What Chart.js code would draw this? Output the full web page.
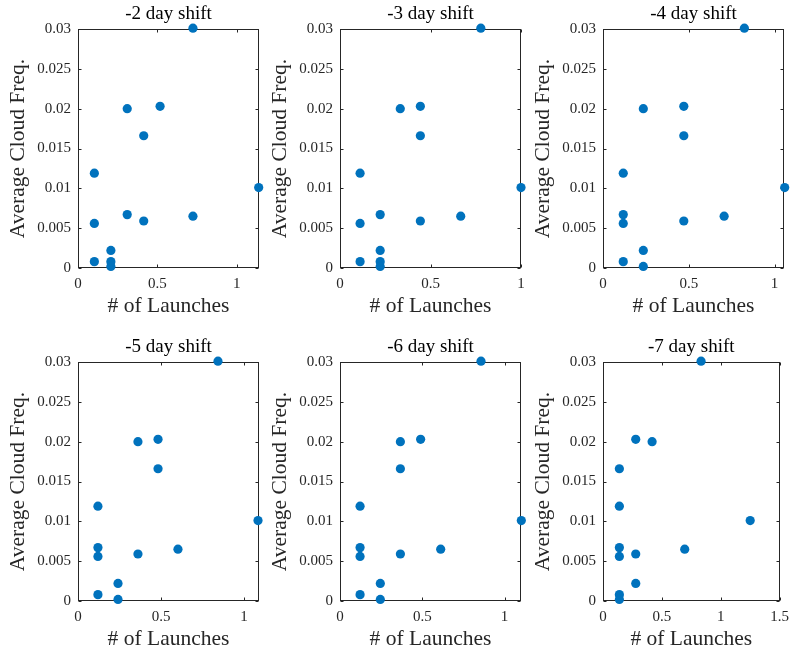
<!DOCTYPE html>
<html>
<head>
<meta charset="utf-8">
<script src="https://cdn.jsdelivr.net/npm/chart.js@4"></script>
<style>
  html, body { margin: 0; padding: 0; background: #ffffff; }
  #figure { position: relative; width: 796px; height: 654px; overflow: hidden; }
  #figure canvas { position: absolute; }
</style>
</head>
<body>
<div id="figure"></div>
<script>
const panelTitles = ["-2 day shift", "-3 day shift", "-4 day shift", "-5 day shift", "-6 day shift", "-7 day shift"];

// # of launches (x) and average cloud frequency (y), one pair per shift
const launchesShift2 = [0.103, 0.103, 0.103, 0.207, 0.207, 0.207, 0.31, 0.31, 0.414, 0.414, 0.517, 0.724, 0.724, 1.138];
const cloudShift2 = [0.0119, 0.0056, 0.0008, 0.0022, 0.0008, 0.0002, 0.0200, 0.0067, 0.0166, 0.0059, 0.0203, 0.0301, 0.0065, 0.0101];

const launchesShift3 = [0.111, 0.111, 0.111, 0.222, 0.222, 0.222, 0.222, 0.333, 0.444, 0.444, 0.444, 0.667, 0.778, 1.0];
const cloudShift3 = [0.0119, 0.0056, 0.0008, 0.0067, 0.0022, 0.0008, 0.0002, 0.0200, 0.0203, 0.0166, 0.0059, 0.0065, 0.0301, 0.0101];

const launchesShift4 = [0.118, 0.118, 0.118, 0.118, 0.235, 0.235, 0.235, 0.471, 0.471, 0.471, 0.706, 0.824, 1.059];
const cloudShift4 = [0.0119, 0.0067, 0.0056, 0.0008, 0.0200, 0.0022, 0.0002, 0.0203, 0.0166, 0.0059, 0.0065, 0.0301, 0.0101];

const launchesShift5 = [0.12, 0.12, 0.12, 0.12, 0.241, 0.241, 0.361, 0.361, 0.482, 0.482, 0.602, 0.843, 1.084];
const cloudShift5 = [0.0119, 0.0067, 0.0056, 0.0008, 0.0022, 0.0002, 0.0200, 0.0059, 0.0203, 0.0166, 0.0065, 0.0301, 0.0101];

const launchesShift6 = [0.122, 0.122, 0.122, 0.122, 0.245, 0.245, 0.367, 0.367, 0.367, 0.49, 0.612, 0.857, 1.102];
const cloudShift6 = [0.0119, 0.0067, 0.0056, 0.0008, 0.0022, 0.0002, 0.0200, 0.0166, 0.0059, 0.0203, 0.0065, 0.0301, 0.0101];

const launchesShift7 = [0.139, 0.139, 0.139, 0.139, 0.139, 0.139, 0.278, 0.278, 0.278, 0.417, 0.694, 0.833, 1.25];
const cloudShift7 = [0.0166, 0.0119, 0.0067, 0.0056, 0.0008, 0.0002, 0.0203, 0.0059, 0.0022, 0.0200, 0.0065, 0.0301, 0.0101];

const launchSeries = [launchesShift2, launchesShift3, launchesShift4, launchesShift5, launchesShift6, launchesShift7];
const cloudSeries = [cloudShift2, cloudShift3, cloudShift4, cloudShift5, cloudShift6, cloudShift7];

// x limits (MATLAB tight limits) and the fixed y range
const xLimits = [1.14, 1.0, 1.055, 1.09, 1.10, 1.5];
const yMax = 0.03;
const yStep = 0.005;
const xStep = 0.5;

const axisColor = "#262626";
const markerColor = "#0072BD";
const serif = "'Liberation Serif', 'Times New Roman', serif";

// where each axes box sits on the page
const axesLefts = [78, 340, 603];
const axesTops = [29, 362];
const axesWidth = 181;
const axesHeight = 239;
const leftRoom = 78;
const canvasWidth = 271;
const canvasHeight = 321;

const axesFrame = {
  id: "axesFrame",
  beforeDatasetsDraw(chart) {
    const { ctx, chartArea } = chart;
    const xScale = chart.scales.x;
    const yScale = chart.scales.y;
    const left = Math.round(chartArea.left) + 0.5;
    const right = Math.round(chartArea.right) - 0.5;
    const top = Math.round(chartArea.top) + 0.5;
    const bottom = Math.round(chartArea.bottom) - 0.5;
    const tickLength = 3;

    ctx.save();
    ctx.strokeStyle = axisColor;
    ctx.lineWidth = 1;
    ctx.strokeRect(left, top, right - left, bottom - top);

    ctx.beginPath();
    yScale.ticks.forEach((tick) => {
      const y = Math.round(yScale.getPixelForValue(tick.value)) + 0.5;
      ctx.moveTo(left, y);
      ctx.lineTo(left + tickLength, y);
      ctx.moveTo(right, y);
      ctx.lineTo(right - tickLength, y);
    });
    xScale.ticks.forEach((tick) => {
      const x = Math.round(xScale.getPixelForValue(tick.value)) + 0.5;
      ctx.moveTo(x, bottom);
      ctx.lineTo(x, bottom - tickLength);
      ctx.moveTo(x, top);
      ctx.lineTo(x, top + tickLength);
    });
    ctx.stroke();
    ctx.restore();
  },
};

function formatTick(value) {
  return String(Number(value.toFixed(3)));
}

function buildPanel(index) {
  const column = index % 3;
  const row = Math.floor(index / 3);
  const canvas = document.createElement("canvas");
  canvas.width = canvasWidth;
  canvas.height = canvasHeight;
  canvas.style.left = `${axesLefts[column] - leftRoom}px`;
  canvas.style.top = `${axesTops[row] - 29}px`;
  document.getElementById("figure").appendChild(canvas);

  const points = launchSeries[index].map((x, i) => ({ x, y: cloudSeries[index][i] }));
  const titleSize = 19;
  const titleBox = titleSize * 1.2 + 7;

  return new Chart(canvas, {
    type: "scatter",
    data: {
      datasets: [
        {
          data: points,
          backgroundColor: markerColor,
          borderColor: markerColor,
          borderWidth: 0,
          pointRadius: 4.6,
          pointHoverRadius: 4.6,
          clip: false,
        },
      ],
    },
    options: {
      responsive: false,
      animation: false,
      devicePixelRatio: 1,
      layout: {
        padding: {
          top: 29 - titleBox,
          right: canvasWidth - leftRoom - axesWidth,
          bottom: 0,
          left: 0,
        },
      },
      scales: {
        x: {
          type: "linear",
          min: 0,
          max: xLimits[index],
          border: { display: false },
          grid: { display: false, drawTicks: false },
          ticks: {
            stepSize: xStep,
            includeBounds: false,
            color: axisColor,
            padding: 7,
            font: { family: serif, size: 15 },
            maxRotation: 0,
            callback: (value) => formatTick(value),
          },
          title: {
            display: true,
            text: "# of Launches",
            color: axisColor,
            font: { family: serif, size: 21.5 },
            padding: { top: 0, bottom: 1.5 },
          },
          afterFit: (scale) => {
            scale.height = canvasHeight - 29 - axesHeight;
          },
        },
        y: {
          type: "linear",
          min: 0,
          max: yMax,
          border: { display: false },
          grid: { display: false, drawTicks: false },
          ticks: {
            stepSize: yStep,
            color: axisColor,
            padding: 7,
            font: { family: serif, size: 15 },
            callback: (value) => formatTick(value),
          },
          title: {
            display: true,
            text: "Average Cloud Freq.",
            color: axisColor,
            font: { family: serif, size: 21.5 },
            padding: { top: 5, bottom: 0 },
          },
          afterFit: (scale) => {
            scale.width = leftRoom;
          },
        },
      },
      plugins: {
        legend: { display: false },
        tooltip: { enabled: false },
        title: {
          display: true,
          fullSize: false,
          text: panelTitles[index],
          color: "#000000",
          font: { family: serif, size: titleSize, weight: "normal" },
          padding: { top: 3, bottom: 4 },
        },
      },
    },
    plugins: [axesFrame],
  });
}

panelTitles.forEach((title, index) => buildPanel(index));
</script>
</body>
</html>
